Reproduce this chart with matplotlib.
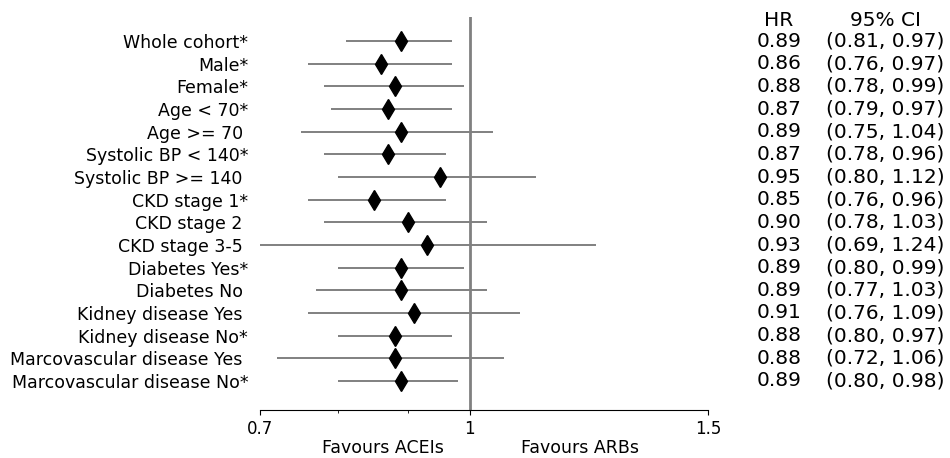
import matplotlib
matplotlib.use("Agg")
import matplotlib.pyplot as plt
from matplotlib.ticker import FixedLocator, NullFormatter, FixedFormatter
import matplotlib.transforms as mtransforms

plt.rcParams["font.family"] = ["DejaVu Sans"]

labels = ["Whole cohort*", "Male*", "Female*", "Age < 70*", "Age >= 70 ",
          "Systolic BP < 140*", "Systolic BP >= 140 ", "CKD stage 1*", "CKD stage 2 ",
          "CKD stage 3-5 ", "Diabetes Yes*", "Diabetes No ", "Kidney disease Yes ",
          "Kidney disease No*", "Marcovascular disease Yes ", "Marcovascular disease No*"]
hr = [0.89, 0.86, 0.88, 0.87, 0.89, 0.87, 0.95, 0.85, 0.90, 0.93, 0.89, 0.89, 0.91, 0.88, 0.88, 0.89]
lo = [0.81, 0.76, 0.78, 0.79, 0.75, 0.78, 0.80, 0.76, 0.78, 0.69, 0.80, 0.77, 0.76, 0.80, 0.72, 0.80]
hi = [0.97, 0.97, 0.99, 0.97, 1.04, 0.96, 1.12, 0.96, 1.03, 1.24, 0.99, 1.03, 1.09, 0.97, 1.06, 0.98]
xticks = [0.7, 1, 1.5]
xticklabels = ["0.7", "1", "1.5"]

FS = 12.5
FS_COL = 14.5
fig = plt.figure(figsize=(9.5, 4.58), dpi=100)
ax = fig.add_axes([260/950, 1-410/458, 448/950, 393/458])

ys = list(range(len(labels)))
ax.axvline(1, color="grey", lw=2, zorder=1)
ax.hlines(ys, lo, hi, color="grey", lw=1.4, zorder=2)
ax.plot(hr, ys, linestyle="none", marker="d", color="black", markersize=9.8, zorder=3)

ax.set_xscale("log")
ax.set_xlim(0.7, 1.5)
ax.xaxis.set_major_locator(FixedLocator(xticks))
ax.xaxis.set_major_formatter(FixedFormatter(xticklabels))
ax.xaxis.set_minor_formatter(NullFormatter())
ax.set_ylim(16.28, -1.06)
ax.set_yticks(ys)
ax.set_yticklabels(labels, fontsize=FS)
ax.tick_params(axis="y", left=False, pad=5)
ax.tick_params(axis="x", labelsize=12)
for s in ["left", "right", "top"]:
    ax.spines[s].set_visible(False)

tr = mtransforms.blended_transform_factory(fig.transFigure, ax.transData)
ax.text(779/950, -0.9, "HR", transform=tr, ha="center", va="center", fontsize=FS_COL)
ax.text(885/950, -0.9, "95% CI", transform=tr, ha="center", va="center", fontsize=FS_COL)
for i in ys:
    ax.text(779/950, i, f"{hr[i]:.2f}", transform=tr, ha="center", va="center", fontsize=FS_COL)
    ax.text(885/950, i, f"({lo[i]:.2f}, {hi[i]:.2f})", transform=tr, ha="center", va="center", fontsize=FS_COL)

fig.text(383/950, 1-448/458, "Favours ACEIs", ha="center", va="center", fontsize=FS)
fig.text(580/950, 1-448/458, "Favours ARBs", ha="center", va="center", fontsize=FS)

fig.savefig("out.png", dpi=100)
